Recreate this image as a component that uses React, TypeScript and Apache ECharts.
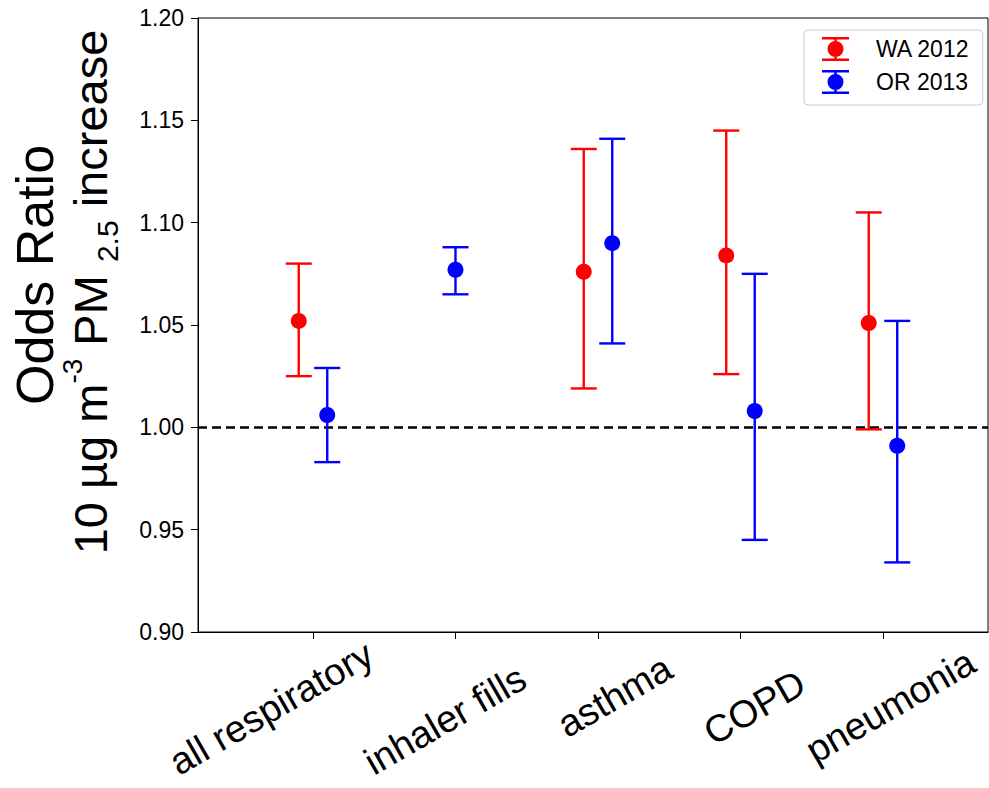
import React, { useEffect, useRef } from "react";
import * as echarts from "echarts";

// ---- data ----
const categories = ["all respiratory", "inhaler fills", "asthma", "COPD", "pneumonia"];
const waOdds = [1.052, null, 1.076, 1.084, 1.051];
const waLower = [1.025, null, 1.019, 1.026, 0.999];
const waUpper = [1.08, null, 1.136, 1.145, 1.105];
const orOdds = [1.006, 1.077, 1.09, 1.008, 0.991];
const orLower = [0.983, 1.065, 1.041, 0.945, 0.934];
const orUpper = [1.029, 1.088, 1.141, 1.075, 1.052];
const yMin = 0.9;
const yMax = 1.2;
const yStep = 0.05;
const seriesNames = ["WA 2012", "OR 2013"];

// ---- layout / style ----
const FONT = '"Liberation Sans", Arial, sans-serif';
const RED = "#ff0000";
const BLUE = "#0000ff";
const X_MIN = -0.807;
const X_MAX = 4.737;
const DODGE = 0.1;
// per-label anchor shift (axis units) and right padding (px) for the rotated tick labels
const labelShift = [0.4, 0.764, 0.666, 0.785, 0.72];
const labelPad = [0, 48, 28, 58, 16];
const labelPos = categories.map((_, i) => i + labelShift[i]);

const legendIcon =
  "path://M0,0H27V2.5H0Z M12.25,0H14.75V24H12.25Z M0,21.5H27V24H0Z M5.5,12A8,8 0 1,1 21.5,12A8,8 0 1,1 5.5,12Z";

function buildSeries(
  name: string,
  odds: (number | null)[],
  lower: (number | null)[],
  upper: (number | null)[],
  color: string,
  side: number
) {
  const pts: number[][] = [];
  const bars: number[][] = [];
  odds.forEach((v, i) => {
    if (v == null) return;
    const both = waOdds[i] != null && orOdds[i] != null;
    const x = i + (both ? side * DODGE : 0);
    pts.push([x, v]);
    bars.push([x, lower[i] as number, upper[i] as number]);
  });
  const errSeries = {
    name,
    type: "custom",
    data: bars,
    encode: { x: 0, y: [1, 2] },
    itemStyle: { color },
    z: 2,
    renderItem: (_p: any, api: any) => {
      const x = api.value(0);
      const top = api.coord([x, api.value(2)]);
      const bot = api.coord([x, api.value(1)]);
      const style = { stroke: color, lineWidth: 2.4 };
      const cap = 13;
      return {
        type: "group",
        children: [
          { type: "line", shape: { x1: top[0], y1: top[1], x2: bot[0], y2: bot[1] }, style },
          { type: "line", shape: { x1: top[0] - cap, y1: top[1], x2: top[0] + cap, y2: top[1] }, style },
          { type: "line", shape: { x1: bot[0] - cap, y1: bot[1], x2: bot[0] + cap, y2: bot[1] }, style },
        ],
      };
    },
  };
  const ptSeries: any = {
    name,
    type: "scatter",
    data: pts,
    symbol: "circle",
    symbolSize: 16,
    itemStyle: { color, opacity: 1 },
    z: 3,
  };
  return [errSeries, ptSeries];
}

export default function App() {
  const ref = useRef<HTMLDivElement>(null);
  useEffect(() => {
    if (!ref.current) return;
    const chart = echarts.init(ref.current, undefined, { renderer: "svg" });
    const wa = buildSeries(seriesNames[0], waOdds, waLower, waUpper, RED, -1);
    const or = buildSeries(seriesNames[1], orOdds, orLower, orUpper, BLUE, 1);
    (wa[1] as any).markLine = {
      silent: true,
      symbol: ["none", "none"],
      label: { show: false },
      lineStyle: { color: "#000", type: [9, 5], width: 2.5 },
      data: [{ yAxis: 1 }],
      z: 1,
    };
    const rich: any = {};
    categories.forEach((_, i) => {
      rich["l" + i] = {
        fontSize: 38,
        fontFamily: FONT,
        color: "#000",
        lineHeight: 40,
        padding: [0, labelPad[i], 0, 0],
      };
    });
    const option: any = {
      animation: false,
      backgroundColor: "#fff",
      grid: {
        left: 198,
        right: 1,
        top: 18,
        bottom: 156,
        show: true,
        borderColor: "#000",
        borderWidth: 1,
        backgroundColor: "transparent",
        outerBoundsMode: "none",
      },
      xAxis: [
        {
          type: "value",
          min: X_MIN,
          max: X_MAX,
          position: "bottom",
          axisLine: { show: true, onZero: false, lineStyle: { color: "#000", width: 1 } },
          axisTick: {
            show: true,
            length: 7,
            lineStyle: { color: "#000" },
            customValues: categories.map((_, i) => i),
          },
          axisLabel: { show: false, customValues: categories.map((_, i) => i) },
          splitLine: { show: false },
        },
        {
          type: "value",
          min: X_MIN,
          max: X_MAX,
          position: "bottom",
          axisLine: { show: false, onZero: false },
          axisTick: { show: false },
          splitLine: { show: false },
          axisLabel: {
            show: true,
            rotate: 30,
            margin: 19,
            customValues: labelPos,
            showMinLabel: true,
            showMaxLabel: true,
            formatter: (v: number) => {
              let idx = 0;
              let best = Infinity;
              labelPos.forEach((p, i) => {
                const d = Math.abs(p - v);
                if (d < best) {
                  best = d;
                  idx = i;
                }
              });
              return "{l" + idx + "|" + categories[idx] + "}";
            },
            rich,
          },
        },
      ],
      yAxis: {
        type: "value",
        min: yMin,
        max: yMax,
        interval: yStep,
        axisLine: { show: true, onZero: false, lineStyle: { color: "#000", width: 1 } },
        axisTick: { show: true, length: 7, lineStyle: { color: "#000" } },
        axisLabel: {
          margin: 14,
          fontSize: 23,
          fontFamily: FONT,
          color: "#000",
          formatter: (v: number) => v.toFixed(2),
        },
        splitLine: { show: false },
      },
      legend: {
        data: seriesNames.map((n) => ({ name: n, icon: legendIcon })),
        orient: "vertical",
        left: 804,
        top: 30,
        itemWidth: 27,
        itemHeight: 24,
        itemGap: 9,
        padding: [7, 13, 11, 18],
        borderColor: "#cccccc",
        borderWidth: 1,
        borderRadius: 4,
        backgroundColor: "rgba(255,255,255,0.8)",
        selectedMode: false,
        formatter: (n: string) => "{t|" + n + "}",
        textStyle: {
          rich: {
            t: { fontSize: 23, fontFamily: FONT, color: "#000", padding: [0, 0, 0, 22], lineHeight: 24 },
          },
        },
      },
      graphic: [
        {
          type: "text",
          x: 34.5,
          y: 275,
          rotation: Math.PI / 2,
          style: {
            text: "Odds Ratio",
            font: "52px " + FONT,
            fill: "#000",
            align: "center",
            verticalAlign: "middle",
          },
        },
        {
          type: "text",
          x: 90.5,
          y: 292,
          rotation: Math.PI / 2,
          style: {
            text: "{n|10 µg m}{sup|-3}{n| PM }{sub|2.5}{n| increase}",
            fill: "#000",
            align: "center",
            verticalAlign: "middle",
            rich: {
              n: { fontSize: 47, fontFamily: FONT, lineHeight: 64, fill: "#000" },
              sup: { fontSize: 28, fontFamily: FONT, lineHeight: 36, verticalAlign: "top", fill: "#000" },
              sub: { fontSize: 30, fontFamily: FONT, lineHeight: 34, verticalAlign: "bottom", fill: "#000" },
            },
          },
        },
      ],
      series: [...wa, ...or],
    };
    chart.setOption(option);
    return () => chart.dispose();
  }, []);
  return (
    <div
      ref={ref}
      style={{ position: "fixed", left: 0, top: 0, width: 989, height: 788, background: "#fff" }}
    />
  );
}
